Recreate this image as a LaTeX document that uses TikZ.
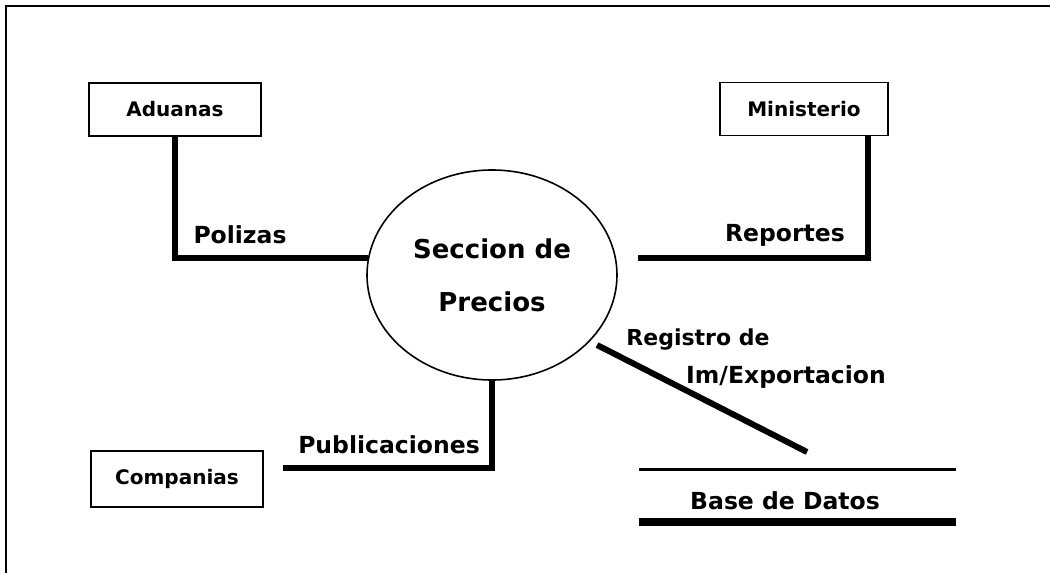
\documentclass[tikz,border=0pt]{standalone}
\usepackage{fontspec}
\setmainfont{DejaVu Sans}
\usetikzlibrary{shapes.geometric}
\begin{document}
\begin{tikzpicture}[x=1pt,y=-1pt,
  entity/.style={draw=black,line width=1.4pt,rectangle,minimum width=#1,minimum height=53pt,inner sep=0pt,font=\fontsize{20}{24}\selectfont\bfseries},
  flow/.style={line width=6pt,line cap=butt},
  lbl/.style={inner sep=0pt,font=\fontsize{23.5}{28}\selectfont\bfseries}]
\useasboundingbox[fill=white] (0,0) rectangle (1050,573);
\draw[line width=2.5pt] (6,573) -- (6,6) -- (1050,6);
% entities
\node[entity=172pt] (adu) at (175,109.5) {Aduanas};
\node[entity=168pt] (min) at (804,109) {Ministerio};
\node[entity=172pt,minimum height=56pt] (com) at (177,479) {Companias};
% process
\node[draw=black,line width=1.6pt,ellipse,minimum width=250pt,minimum height=210pt,inner sep=0pt,align=center,
  font=\fontsize{26}{53}\selectfont\bfseries] (sec) at (492,275) {Seccion de\\Precios};
% free ends
\coordinate (repend) at (638,258);
\coordinate (pubend) at (283,468);
\coordinate (regstart) at (597,345);
\coordinate (regend) at (807,452);
\coordinate (dbtl) at (639,469);
\coordinate (dbtr) at (956,469);
\coordinate (dbbl) at (639,522);
\coordinate (dbbr) at (956,522);
% flows
\draw[flow] (adu.south) |- (sec.172);
\draw[flow] ([xshift=-21pt]min.south east) |- (repend);
\draw[flow] (sec.south) |- (pubend);
\draw[flow] (regstart) -- (regend);
% data store
\draw[line width=3pt] (dbtl) -- (dbtr);
\draw[line width=8pt] (dbbl) -- (dbbr);
\node[lbl] (db) at (785,501) {Base de Datos};
% labels
\node[lbl] (pol) at (240,235) {Polizas};
\node[lbl] (rep) at (785,235) {Reportes};
\node[lbl] (pub) at (389,445) {Publicaciones};
\node[lbl,font=\fontsize{22}{26}\selectfont\bfseries] (reg1) at (698,340) {Registro de};
\node[lbl] (reg2) at (786,377) {Im/Exportacion};
\end{tikzpicture}
\end{document}
